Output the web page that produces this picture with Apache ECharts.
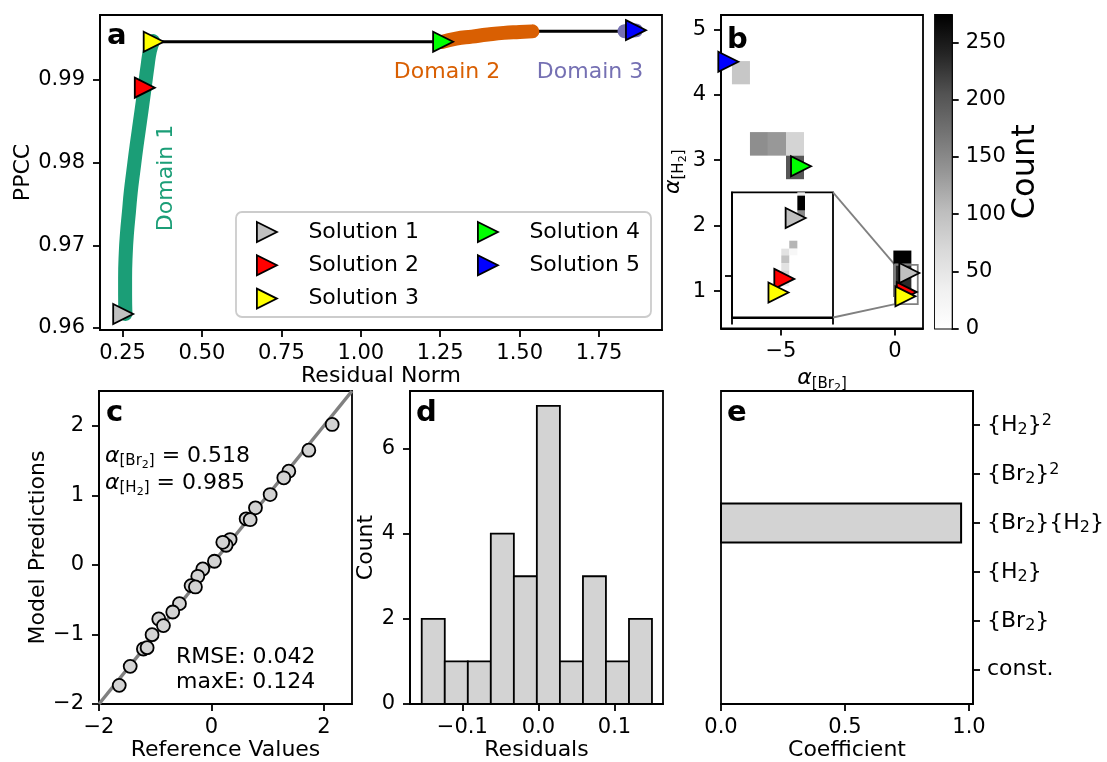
<!DOCTYPE html>
<html><head><meta charset="utf-8">
<script src="https://cdn.jsdelivr.net/npm/echarts@6/dist/echarts.min.js"></script>
<style>html,body{margin:0;padding:0;background:#fff}#c{width:1107px;height:762px}</style>
</head><body><div id="c"></div>
<script>
const F = 'DejaVu Sans';

// ---------- Panel a: Pareto front ----------
const domain1Resid = [0.259,0.258,0.258,0.260,0.264,0.270,0.276,0.284,0.294,0.305,0.314,0.321,0.328,0.336,0.346];
const domain1PPCC  = [0.9617,0.9640,0.9660,0.9690,0.9715,0.9740,0.9765,0.9790,0.9820,0.9850,0.9875,0.9895,0.9915,0.9935,0.9947];
const domain2Resid = [1.255,1.30,1.35,1.40,1.45,1.50,1.54];
const domain2PPCC  = [0.9946,0.9950,0.99525,0.9955,0.9957,0.9958,0.99588];
const domain3Resid = [1.83,1.866];
const domain3PPCC  = [0.9959,0.9960];
const frontResid = [0.348,1.259,1.54,1.866];
const frontPPCC  = [0.99463,0.99463,0.9959,0.9959];
const solutionNames  = ['Solution 1','Solution 2','Solution 3','Solution 4','Solution 5'];
const solutionColors = ['#c0c0c0','#ff0000','#ffff00','#00ff00','#0000ff'];
const solutionResid  = [0.252,0.320,0.348,1.259,1.866];
const solutionPPCC   = [0.9617,0.98907,0.99463,0.99463,0.99603];
const residTicks = [0.25,0.5,0.75,1.0,1.25,1.5,1.75];
const ppccTicks  = [0.96,0.97,0.98,0.99];

// ---------- Panel b: alpha histogram ----------
const solutionAlphaBr2 = [0.63,0.518,0.46,-4.12,-7.31];
const solutionAlphaH2  = [1.277,0.985,0.92,2.908,4.505];
const bCellX0 = [-7.15,-6.36,-5.57,-4.78,-4.78,-0.07,-0.07];
const bCellX1 = [-6.36,-5.57,-4.78,-3.99,-3.99,0.72,0.72];
const bCellY0 = [4.16,3.07,3.07,3.07,2.71,1.42,0.91];
const bCellY1 = [4.515,3.43,3.43,3.43,3.07,1.62,1.42];
const bCellCount = [90,145,135,75,200,274,235];
const insetCellX0 = [0.647,0.647,0.647,0.567,0.488,0.567,0.488,0.488,0.488,0.488];
const insetCellX1 = [0.723,0.723,0.723,0.647,0.567,0.647,0.567,0.567,0.567,0.567];
const insetCellY0 = [1.384,1.312,1.285,1.130,1.098,1.098,1.061,1.026,0.989,0.950];
const insetCellY1 = [1.402,1.384,1.312,1.168,1.130,1.130,1.098,1.061,1.026,0.989];
const insetCellCount = [40,274,150,110,55,18,95,55,80,40];
const insetRangeX = [0,1.0];
const insetRangeY = [0.8,1.4];
const countMax = 274;
const countTicks = [0,50,100,150,200,250];
const greysLevels = [255,240,217,189,150,115,82,37,0];
const bXTicks = [-5,0];
const bYTicks = [1,2,3,4,5];

// ---------- Panel c: parity ----------
const refValues  = [2.147,1.732,1.376,1.287,1.044,0.783,0.617,0.689,0.332,0.261,0.202,0.053,-0.154,-0.243,-0.362,-0.285,-0.569,-0.688,-0.937,-0.854,-1.056,-1.21,-1.144,-1.445,-1.64];
const predValues = [2.019,1.649,1.347,1.252,1.011,0.82,0.662,0.65,0.364,0.282,0.325,0.052,-0.058,-0.164,-0.298,-0.317,-0.557,-0.677,-0.777,-0.873,-1.003,-1.209,-1.19,-1.459,-1.732];
const parityLine = [-2,2.5];
const cTicks = [-2,0,2];
const cYTicks = [-2,-1,0,1,2];

// ---------- Panel d: residual histogram ----------
const residEdges  = [-0.1534,-0.1231,-0.0928,-0.0626,-0.0323,-0.0021,0.0282,0.0585,0.0887,0.1190,0.1492];
const residCounts = [2,1,1,4,3,7,1,3,1,2];
const dXTicks = [-0.1,0,0.1];
const dYTicks = [0,2,4,6];

// ---------- Panel e: coefficients ----------
const coefLabels = ['const.','{Br{s|2}}','{H{s|2}}','{Br{s|2}}{H{s|2}}','{Br{s|2}}{p|2}','{H{s|2}}{p|2}'];
const coefValues = [0,0,0,0.968,0,0];
const eXTicks = [0,0.5,1.0];

// ---------- helpers ----------
const minus = s => String(s).replace('-', '\u2212');
function greys(v){
  const t = Math.max(0, Math.min(1, v / countMax));
  const p = t * 8, i = Math.min(7, Math.floor(p)), f = p - i;
  const g = Math.round(greysLevels[i] + (greysLevels[i+1] - greysLevels[i]) * f);
  return 'rgb(' + g + ',' + g + ',' + g + ')';
}
const subRich = {
  al: {fontFamily:F, fontSize:22, fontStyle:'italic', color:'#000', verticalAlign:'middle'},
  sb: {fontFamily:F, fontSize:15, color:'#000', verticalAlign:'bottom', padding:[0,0,2,0]},
  ss: {fontFamily:F, fontSize:11, color:'#000', verticalAlign:'bottom'},
  m:  {fontFamily:F, fontSize:22, color:'#000', verticalAlign:'middle'},
  s:  {fontFamily:F, fontSize:16, color:'#000', verticalAlign:'bottom', padding:[0,0,2,0]},
  p:  {fontFamily:F, fontSize:16, color:'#000', verticalAlign:'top', padding:[3,0,0,0]}
};
function axis(gridIndex, min, max, ticks, fmt, name, nameGap, opt) {
  opt = opt || {};
  const a = {
    type:'value', gridIndex, min, max, splitLine:{show:false},
    axisLine:{show:true, onZero:false, lineStyle:{color:'#000', width:1.8}},
    axisTick:{show: ticks.length > 0, length:7, customValues: ticks, lineStyle:{color:'#000', width:1.8}},
    axisLabel:{show: !!fmt, customValues: ticks, color:'#000', fontFamily:F, fontSize: opt.labelSize || 21, margin: opt.margin || 13},
    name: name || '', nameLocation:'middle', nameGap: nameGap || 0,
    nameTextStyle:{color:'#000', fontFamily:F, fontSize: opt.nameSize || 22}
  };
  if (fmt) a.axisLabel.formatter = fmt;
  if (opt.position) a.position = opt.position;
  if (opt.noMove) a.nameMoveOverlap = false;
  if (opt.labelRich) { a.axisLabel.rich = opt.labelRich; a.axisLabel.lineHeight = 30; }
  if (opt.nameRich) { a.nameTextStyle.rich = opt.nameRich; a.nameTextStyle.lineHeight = 30; }
  return a;
}
const triPath = 'path://M0,0L10,5L0,10Z';
const cellRender = (params, api) => {
  const p0 = api.coord([api.value(0), api.value(3)]);
  const p1 = api.coord([api.value(1), api.value(2)]);
  const cs = params.coordSys;
  const shape = echarts.graphic.clipRectByRect(
    {x:p0[0], y:p0[1], width:p1[0]-p0[0], height:p1[1]-p0[1]},
    {x:cs.x, y:cs.y, width:cs.width, height:cs.height});
  return shape && {type:'rect', shape, style:{fill: greys(api.value(4))}};
};
const zip = (a, b) => a.map((v, i) => [v, b[i]]);
const cells = (x0, x1, y0, y1, c) => x0.map((v, i) => [v, x1[i], y0[i], y1[i], c[i]]);
const bTriData = solutionAlphaBr2.map((v, i) => ({value:[v, solutionAlphaH2[i]], itemStyle:{color: solutionColors[i]}}));
const triStyle = {borderColor:'#000', borderWidth:1.8, opacity:1};

const grids = [
  {left:100, top:15, width:562, height:315},
  {left:721, top:15, width:202, height:313.5},
  {left:935, top:15, width:16.7, height:313.5},
  {left:732, top:192.3, width:101, height:125.2, backgroundColor:'#fff'},
  {left:99, top:391, width:253, height:313},
  {left:410, top:391, width:253, height:313},
  {left:721, top:391, width:252, height:313}
].map(g => Object.assign({show:true, borderColor:'#000', borderWidth:1.8, outerBoundsMode:'none', containLabel:false}, g));

const xAxes = [
  axis(0, 0.179, 1.948, residTicks, v => v.toFixed(2), 'Residual Norm', 34),
  axis(1, -7.63, 1.23, bXTicks, v => minus(v), '{al|α}{sb|[Br}{ss|2}{sb|]}', 27, {nameRich: subRich}),
  Object.assign(axis(2, 0, 1, [], null), {show:false}),
  axis(3, insetRangeX[0], insetRangeX[1], insetRangeX, null),
  axis(4, -2, 2.5, cTicks, v => minus(v), 'Reference Values', 32),
  axis(5, -0.1688, 0.1637, dXTicks, v => minus(v.toFixed(1)), 'Residuals', 32),
  axis(6, 0, 1.016, eXTicks, v => v.toFixed(1), 'Coefficient', 32)
];
const yAxes = [
  axis(0, 0.95976, 0.99786, ppccTicks, v => v.toFixed(2), 'PPCC', 66, {margin:15, noMove:true}),
  axis(1, 0.429, 5.219, bYTicks, v => String(v), '{al|α}{sb|[H}{ss|2}{sb|]}', 26, {margin:15, nameRich: subRich}),
  axis(2, 0, countMax, countTicks, v => String(v), 'Count', 53, {position:'right', margin:14, nameSize:32}),
  axis(3, insetRangeY[0], insetRangeY[1], [1.0], null),
  axis(4, -2, 2.5, cYTicks, v => minus(v), 'Model Predictions', 48, {margin:15}),
  axis(5, 0, 7.35, dYTicks, v => String(v), 'Count', 31, {margin:15}),
  axis(6, -0.7, 5.7, [0,1,2,3,4,5], v => coefLabels[Math.round(v)], '', 0, {position:'right', margin:14, labelSize:22, labelRich: subRich})
];

const series = [
  // a
  {type:'line', xAxisIndex:0, yAxisIndex:0, data: zip(frontResid, frontPPCC), showSymbol:false, lineStyle:{color:'#000', width:3}, z:2, silent:true},
  {type:'line', xAxisIndex:0, yAxisIndex:0, data: zip(domain1Resid, domain1PPCC), showSymbol:false, smooth:true, lineStyle:{color:'#1b9e77', width:14, cap:'round', join:'round'}, z:3, silent:true},
  {type:'line', xAxisIndex:0, yAxisIndex:0, data: zip(domain2Resid, domain2PPCC), showSymbol:false, smooth:true, lineStyle:{color:'#d95f02', width:14, cap:'round', join:'round'}, z:3, silent:true},
  {type:'line', xAxisIndex:0, yAxisIndex:0, data: zip(domain3Resid, domain3PPCC), showSymbol:false, lineStyle:{color:'#7570b3', width:14, cap:'round', join:'round'}, z:3, silent:true},
  ...solutionNames.map((n, i) => ({type:'scatter', name:n, xAxisIndex:0, yAxisIndex:0, data:[[solutionResid[i], solutionPPCC[i]]], symbol:triPath, symbolSize:20, itemStyle:Object.assign({color: solutionColors[i]}, triStyle), z:5, silent:true})),
  // b
  {type:'custom', xAxisIndex:1, yAxisIndex:1, data: cells(bCellX0, bCellX1, bCellY0, bCellY1, bCellCount), renderItem: cellRender, encode:{x:[0,1], y:[2,3]}, z:2, silent:true},
  {type:'custom', xAxisIndex:1, yAxisIndex:1, data:[[insetRangeX[0], insetRangeX[1], insetRangeY[0], insetRangeY[1]]], encode:{x:[0,1], y:[2,3]}, z:3, silent:true,
   renderItem:(p, api) => { const a = api.coord([api.value(0), api.value(3)]), b = api.coord([api.value(1), api.value(2)]);
     return {type:'rect', shape:{x:a[0], y:a[1], width:b[0]-a[0], height:b[1]-a[1]}, style:{fill:'rgba(0,0,0,0)', stroke:'#808080', lineWidth:1.8}}; }},
  {type:'scatter', xAxisIndex:1, yAxisIndex:1, data: bTriData, symbol:triPath, symbolSize:20, itemStyle:triStyle, z:5, silent:true, clip:false},
  // colorbar
  {type:'custom', xAxisIndex:2, yAxisIndex:2, data:[[0,1,0,countMax]], encode:{x:[0,1], y:[2,3]}, z:2, silent:true,
   renderItem:(p, api) => { const a = api.coord([api.value(0), api.value(3)]), b = api.coord([api.value(1), api.value(2)]);
     return {type:'rect', shape:{x:a[0], y:a[1], width:b[0]-a[0], height:b[1]-a[1]},
       style:{fill:{type:'linear', x:0, y:1, x2:0, y2:0, colorStops: greysLevels.map((g, i) => ({offset:i/8, color:'rgb(' + g + ',' + g + ',' + g + ')'}))}}}; }},
  // inset
  {type:'custom', xAxisIndex:3, yAxisIndex:3, data: cells(insetCellX0, insetCellX1, insetCellY0, insetCellY1, insetCellCount), renderItem: cellRender, encode:{x:[0,1], y:[2,3]}, z:6, silent:true},
  {type:'scatter', xAxisIndex:3, yAxisIndex:3, data: bTriData.slice(0,3), symbol:triPath, symbolSize:20, itemStyle:triStyle, z:7, silent:true},
  // c
  {type:'line', xAxisIndex:4, yAxisIndex:4, data: zip(parityLine, parityLine), showSymbol:false, lineStyle:{color:'#808080', width:3.5}, z:2, silent:true},
  {type:'scatter', xAxisIndex:4, yAxisIndex:4, data: zip(refValues, predValues), symbol:'circle', symbolSize:13, itemStyle:{color:'#d3d3d3', borderColor:'#000', borderWidth:1.8, opacity:1}, z:4, silent:true},
  // d
  {type:'custom', xAxisIndex:5, yAxisIndex:5, data: residCounts.map((c, i) => [residEdges[i], residEdges[i+1], c]), encode:{x:[0,1], y:2}, z:2, silent:true,
   renderItem:(p, api) => { const a = api.coord([api.value(0), api.value(2)]), b = api.coord([api.value(1), 0]);
     return {type:'rect', shape:{x:a[0], y:a[1], width:b[0]-a[0], height:b[1]-a[1]}, style:{fill:'#d3d3d3', stroke:'#000', lineWidth:1.8}}; }},
  // e
  {type:'custom', xAxisIndex:6, yAxisIndex:6, data: coefValues.map((v, i) => [i, v]), encode:{x:1, y:0}, z:2, silent:true,
   renderItem:(p, api) => { const v = api.value(1), i = api.value(0); if (!v) return null;
     const a = api.coord([0, i + 0.4]), b = api.coord([v, i - 0.4]);
     return {type:'rect', shape:{x:a[0], y:a[1], width:b[0]-a[0], height:b[1]-a[1]}, style:{fill:'#d3d3d3', stroke:'#000', lineWidth:2}}; }}
];

const legendBase = {orient:'vertical', itemWidth:21, itemHeight:20, itemGap:11.3, icon: triPath, selectedMode:false,
  textStyle:{fontFamily:F, fontSize:22, color:'#000', padding:[0,0,0,26], lineHeight:20},
  itemStyle:{borderColor:'#000', borderWidth:1.8}, z:5};
const legends = [
  Object.assign({data: solutionNames.slice(0,3), left:251, top:216}, legendBase),
  Object.assign({data: solutionNames.slice(3), left:472, top:216}, legendBase)
];

function txt(text, x, y, o) {
  return {type:'text', x, y, z:10, silent:true, rotation: o.rotation || 0,
    style: Object.assign({text, fontFamily:F, fontSize:22, fill:'#000', align:'center', verticalAlign:'middle'}, o.style || {})};
}
const letter = {fontSize:29, fontWeight:'bold', align:'left', verticalAlign:'middle'};
const baseGraphics = [
  {type:'rect', shape:{x:236, y:212, width:415, height:105, r:6}, style:{fill:'rgba(255,255,255,0.8)', stroke:'#cccccc', lineWidth:1.8}, z:4, silent:true},
  txt('Domain 1', 166, 178, {rotation:Math.PI/2, style:{fill:'#1b9e77'}}),
  txt('Domain 2', 447, 72, {style:{fill:'#d95f02'}}),
  txt('Domain 3', 590, 72, {style:{fill:'#7570b3'}}),
  txt('a', 107, 36.5, {style:letter}),
  txt('b', 727, 40, {style:letter}),
  txt('c', 106, 413, {style:letter}),
  txt('d', 416, 413, {style:letter}),
  txt('e', 727, 413, {style:letter}),
  txt('{al|α}{sb|[Br}{ss|2}{sb|]}{m| = 0.518}', 105, 456, {style:{align:'left', rich: subRich, lineHeight:30}}),
  txt('{al|α}{sb|[H}{ss|2}{sb|]}{m| = 0.985}', 105, 483, {style:{align:'left', rich: subRich, lineHeight:30}}),
  txt('RMSE: 0.042', 176, 657, {style:{align:'left', fontSize:22}}),
  txt('maxE: 0.124', 176, 682, {style:{align:'left', fontSize:22}})
];

const chart = echarts.init(document.getElementById('c'));
chart.setOption({
  animation:false, backgroundColor:'#fff',
  textStyle:{fontFamily:F},
  grid: grids, xAxis: xAxes, yAxis: yAxes, series, legend: legends, graphic: baseGraphics
});

// connector lines between the zoom box and the inset
const boxTL = chart.convertToPixel({gridIndex:1}, [insetRangeX[0], insetRangeY[1]]);
const boxBL = chart.convertToPixel({gridIndex:1}, [insetRangeX[0], insetRangeY[0]]);
const insTR = chart.convertToPixel({gridIndex:3}, [insetRangeX[1], insetRangeY[1]]);
const insBR = chart.convertToPixel({gridIndex:3}, [insetRangeX[1], insetRangeY[0]]);
const conn = (a, b) => ({type:'line', shape:{x1:a[0], y1:a[1], x2:b[0], y2:b[1]}, style:{stroke:'#808080', lineWidth:1.8}, z:1, silent:true});
chart.setOption({graphic: baseGraphics.concat([conn(insTR, boxTL), conn(insBR, boxBL)])});
</script></body></html>
